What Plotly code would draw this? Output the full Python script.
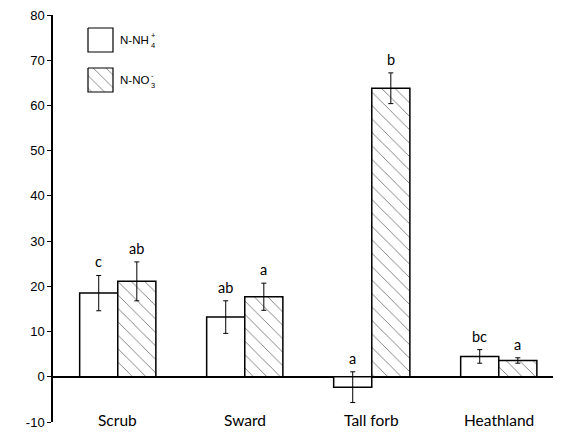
import plotly.graph_objects as go

categories = ["Scrub", "Sward", "Tall forb", "Heathland"]
nh4_values = [18.5, 13.2, -2.3, 4.5]
nh4_errors = [3.9, 3.6, 3.4, 1.5]
no3_values = [21.1, 17.7, 63.8, 3.6]
no3_errors = [4.3, 3.0, 3.4, 0.6]
nh4_letters = ["c", "ab", "a", "bc"]
no3_letters = ["ab", "a", "b", "a"]
y_ticks = [-10, 0, 10, 20, 30, 40, 50, 60, 70, 80]

TICK_FONT = "Liberation Sans, Arial, sans-serif"
CAT_FONT = "Lato, Open Sans, sans-serif"

# page has an 8px body margin; work in page pixel coordinates
OFF = 8
PL, PR, PT, PB = 53, 561, 15, 422   # plot area in page pixels
W, H = 561 - OFF, 432 - OFF
L, T = PL - OFF, PT - OFF
R = W - (PR - OFF)
B = H - (PB - OFF)

fig = go.Figure()

fig.add_trace(go.Bar(
    x=categories, y=nh4_values, name="N-NH4+",
    marker=dict(color="white", line=dict(color="black", width=1.5)),
    error_y=dict(type="data", array=nh4_errors, color="black", thickness=1, width=2.5),
    showlegend=False,
))
fig.add_trace(go.Bar(
    x=categories, y=no3_values, name="N-NO3-",
    marker=dict(color="white", line=dict(color="black", width=1.5),
                pattern=dict(shape="\\", fgcolor="black", bgcolor="white", size=9.5, solidity=0.1)),
    error_y=dict(type="data", array=no3_errors, color="black", thickness=1, width=2.5),
    showlegend=False,
))

def rect(x0, y0, x1, y1):
    return [x0, x1, x1, x0, x0], [y0, y0, y1, y1, y0]

rx, ry = rect(88, 28, 113, 52)
fig.add_trace(go.Scatter(x=rx, y=ry, xaxis="x2", yaxis="y2", mode="lines", fill="toself",
                         fillcolor="white", line=dict(color="black", width=1.2),
                         showlegend=False, hoverinfo="skip"))
rx, ry = rect(88, 68, 113, 92)
fig.add_trace(go.Scatter(x=rx, y=ry, xaxis="x2", yaxis="y2", mode="lines", fill="toself",
                         fillcolor="white",
                         fillpattern=dict(shape="\\", fgcolor="black", bgcolor="white", size=9, solidity=0.1),
                         line=dict(color="black", width=1.2),
                         showlegend=False, hoverinfo="skip"))

annotations = []
for ytxt, base, sup, sub in [(40, "N-NH", "+", "4"), (80, "N-NO", "-", "3")]:
    annotations.append(dict(x=119, y=ytxt, xref="x2", yref="y2", text=base, showarrow=False,
                            xanchor="left", yanchor="middle", borderpad=0,
                            font=dict(family=TICK_FONT, size=11.5, color="black")))
    annotations.append(dict(x=150, y=ytxt + 0.5, xref="x2", yref="y2", text=f"{sup}<br>{sub}",
                            showarrow=False, xanchor="left", yanchor="middle", align="left",
                            borderpad=0, font=dict(family=TICK_FONT, size=7.5, color="black")))

bar_px = 19
for cat, v, e, lt in zip(categories, nh4_values, nh4_errors, nh4_letters):
    annotations.append(dict(x=cat, y=v + e, xref="x", yref="y", text=lt, showarrow=False,
                            xshift=-bar_px, yanchor="bottom", yshift=3,
                            font=dict(family=CAT_FONT, size=14.5, color="black")))
for cat, v, e, lt in zip(categories, no3_values, no3_errors, no3_letters):
    annotations.append(dict(x=cat, y=v + e, xref="x", yref="y", text=lt, showarrow=False,
                            xshift=bar_px, yanchor="bottom", yshift=3,
                            font=dict(family=CAT_FONT, size=14.5, color="black")))

for cat in categories:
    annotations.append(dict(x=cat, y=-10, xref="x", yref="y", text=cat, showarrow=False,
                            yanchor="middle", yshift=2,
                            font=dict(family=CAT_FONT, size=15.5, color="black")))

annotations.append(dict(x=15, y=196, xref="x2", yref="y2", text="[mg N kg<sup>-1</sup> d.w.]",
                        showarrow=False, textangle=-90, xanchor="center", yanchor="middle",
                        font=dict(family=TICK_FONT, size=11, color="black")))

fig.update_layout(
    width=W, height=H,
    margin=dict(l=L, r=R, t=T, b=B, pad=0),
    paper_bgcolor="white", plot_bgcolor="white",
    barmode="group", bargap=0.4, bargroupgap=0,
    annotations=annotations,
    xaxis=dict(type="category", range=[-0.51, 3.49], showticklabels=False, ticks="",
               showline=False, showgrid=False, zeroline=False),
    yaxis=dict(range=[-10, 80], tickvals=y_ticks, ticktext=[str(v) for v in y_ticks],
               ticks="outside", ticklen=4, tickwidth=1.2, ticklabeloverflow="allow",
               tickcolor="black", showline=True, linecolor="black", linewidth=1.5,
               showgrid=False, zeroline=True, zerolinecolor="black", zerolinewidth=1.5,
               tickfont=dict(family=TICK_FONT, size=13, color="black")),
    xaxis2=dict(overlaying="x", anchor="y2", range=[PL, PR], visible=False, fixedrange=True),
    yaxis2=dict(overlaying="y", anchor="x2", range=[PB, PT], visible=False, fixedrange=True),
)

fig.write_html("out.html")
